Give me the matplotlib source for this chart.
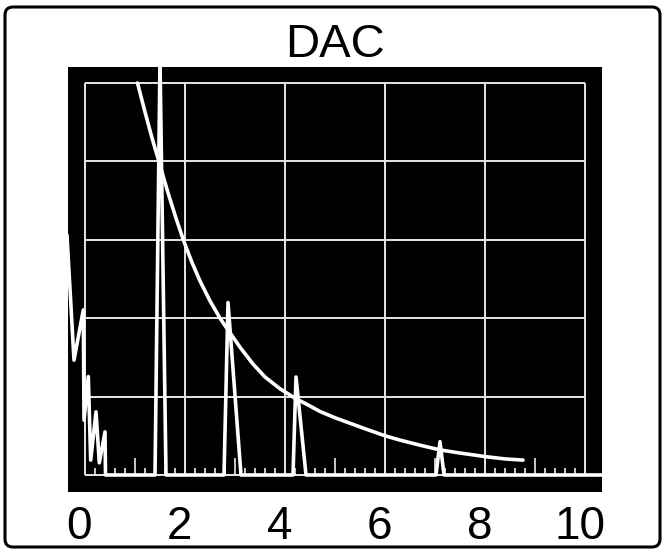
import matplotlib
matplotlib.use("Agg")
import matplotlib.pyplot as plt
import matplotlib.patches as mpatches
import matplotlib.transforms as mtransforms
import numpy as np

FONT = ["Liberation Sans", "DejaVu Sans"]

# A-scan echo trace (time base in divisions, amplitude in % screen height)
signal_x = [-0.36, -0.22, -0.034, -0.02, 0.066, 0.114, 0.22, 0.286, 0.40, 0.41,
            1.40, 1.50, 1.62,
            2.78, 2.86, 3.12,
            4.16, 4.22, 4.42,
            7.02, 7.10, 7.18,
            10.6]
signal_y = [61.0, 29.3, 42.1, 14.0, 25.1, 3.8, 16.1, 3.1, 11.0, 0.0,
            0.0, 106.0, 0.0,
            0.0, 44.0, 0.0,
            0.0, 25.0, 0.0,
            0.0, 8.5, 0.0,
            0.0]

# Distance-amplitude correction curve
dac_x = [1.05, 1.20, 1.34, 1.50, 1.66, 1.82, 1.98, 2.14, 2.30, 2.50, 2.70, 2.86,
         3.10, 3.36, 3.60, 3.90, 4.20, 4.50, 4.70, 5.00, 5.30, 5.60, 6.00, 6.30,
         6.70, 7.10, 7.50, 8.00, 8.40, 8.76]
dac_y = [100.0, 92.6, 86.0, 79.0, 72.0, 65.5, 59.5, 54.2, 49.5, 44.4, 40.0, 37.0,
         32.6, 28.3, 25.0, 22.0, 19.6, 17.6, 16.2, 14.6, 13.2, 11.8, 10.0, 8.9,
         7.6, 6.4, 5.6, 4.7, 4.1, 3.8]

tick_values = [0, 2, 4, 6, 8, 10]
tick_labels = ["0", "2", "4", "6", "8", "10"]
title_text = "DAC"

W, H, DPI = 662, 549, 100
fig = plt.figure(figsize=(W / DPI, H / DPI), dpi=DPI, facecolor="white")

# rounded frame around the whole panel (pixel coordinates)
frame = mpatches.FancyBboxPatch((5, 2), 655, 540,
                                boxstyle="round,pad=0,rounding_size=8",
                                transform=mtransforms.IdentityTransform(),
                                facecolor="none", edgecolor="black", linewidth=2.2)
fig.patches.append(frame)

ax = fig.add_axes([68 / W, 57 / H, 534 / W, 425 / H])
ax.set_facecolor("black")
for s in ax.spines.values():
    s.set_visible(False)
ax.set_xlim(-0.34, 10.34)
ax.set_ylim(-4.34, 104.08)
ax.set_xticks([])
ax.set_yticks([])

grid_col = "#e6e6e6"
ax.vlines(np.arange(0, 11, 2), 0, 100, colors=grid_col, linewidth=1.4, zorder=1)
ax.hlines(np.arange(0, 101, 20), 0, 10, colors=grid_col, linewidth=1.4, zorder=1)

# small scale marks along the baseline, longer ones on odd divisions
marks = [round(0.2 * k, 1) for k in range(1, 50) if k % 10 != 0]
short = [m for m in marks if abs(m - round(m)) > 1e-6 or int(round(m)) % 2 == 0]
tall = [m for m in marks if abs(m - round(m)) < 1e-6 and int(round(m)) % 2 == 1]
ax.vlines(short, 0, 1.9, colors="white", linewidth=1.1, zorder=2)
ax.vlines(tall, 0, 4.4, colors="white", linewidth=1.1, zorder=2)

ax.plot(signal_x, signal_y, color="white", linewidth=2.6,
        solid_joinstyle="round", zorder=4)
ax.plot(dac_x, dac_y, color="white", linewidth=2.6,
        solid_capstyle="round", solid_joinstyle="round", zorder=5)

ax.set_title(title_text, fontsize=34, family=FONT, color="black", pad=7)

shift = mtransforms.ScaledTranslation(-5.5 / DPI, 0, fig.dpi_scale_trans)
lab_trans = mtransforms.blended_transform_factory(ax.transData, ax.transAxes) + shift
for v, t in zip(tick_values, tick_labels):
    ax.text(v, -(539 - 492) / 425, t, transform=lab_trans, ha="center", va="baseline",
            fontsize=33, family=FONT, color="black")

fig.savefig("out.png", dpi=DPI, facecolor="white")
